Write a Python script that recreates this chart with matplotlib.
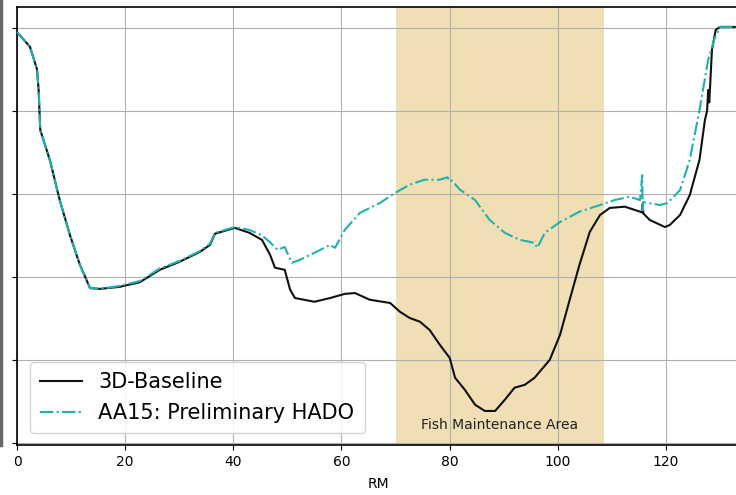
import matplotlib
matplotlib.use("Agg")
import matplotlib.pyplot as plt
from matplotlib.lines import Line2D

# River mile positions and values (fraction)
base_rm = [0, 2.4, 3.7, 4.0, 4.3, 6.1, 7.9, 9.8, 11.6, 13.5, 15.3, 19.0, 22.7, 26.4, 30.0,
           33.8, 35.7, 36.6, 40.3, 43.0, 45.3, 46.8, 47.7, 49.5, 50.5, 51.4, 55.0, 57.9,
           60.6, 62.5, 65.2, 69.0, 70.8, 72.6, 74.5, 76.3, 78.2, 80.0, 81.0, 82.8, 84.7,
           86.5, 88.4, 90.2, 92.0, 93.9, 95.7, 98.5, 100.4, 102.2, 104.0, 105.9, 107.8,
           109.6, 112.4, 115.2, 115.6, 115.7, 115.8, 117.0, 119.8, 120.7, 122.6, 124.4,
           126.2, 127.2, 127.6, 127.8, 128.0, 128.5, 129.2, 130.0, 134.0]
base_val = [0.990, 0.954, 0.90, 0.85, 0.754, 0.68, 0.585, 0.50, 0.43, 0.373, 0.371, 0.376,
            0.387, 0.417, 0.436, 0.460, 0.477, 0.504, 0.518, 0.506, 0.489, 0.453, 0.422,
            0.417, 0.369, 0.349, 0.340, 0.349, 0.359, 0.361, 0.345, 0.337, 0.316, 0.301,
            0.292, 0.272, 0.236, 0.205, 0.157, 0.128, 0.092, 0.077, 0.077, 0.104, 0.133,
            0.140, 0.157, 0.200, 0.260, 0.345, 0.429, 0.508, 0.549, 0.566, 0.569, 0.557,
            0.555, 0.575, 0.553, 0.537, 0.520, 0.525, 0.549, 0.597, 0.682, 0.778, 0.800,
            0.850, 0.820, 0.947, 0.995, 1.002, 1.002]

alt_rm = [0, 2.4, 3.7, 4.0, 4.3, 6.1, 7.9, 9.8, 11.6, 13.5, 15.3, 19.0, 22.7, 26.4, 30.0,
          33.8, 35.7, 36.6, 40.3, 43.0, 45.3, 46.8, 48.2, 49.5, 50.8, 52.3, 55.0, 57.9,
          58.8, 60.6, 63.4, 67.1, 69.9, 72.6, 75.4, 78.2, 79.6, 80.0, 80.4, 81.9, 84.7,
          87.4, 90.2, 93.0, 95.7, 96.2, 97.6, 100.4, 104.0, 107.8, 110.5, 113.3, 115.2,
          115.6, 115.7, 115.8, 118.9, 120.3, 122.6, 124.4, 126.2, 127.8, 129.0, 130.0, 134.0]
alt_val = [0.990, 0.954, 0.90, 0.85, 0.754, 0.68, 0.585, 0.50, 0.43, 0.373, 0.371, 0.378,
           0.390, 0.420, 0.438, 0.462, 0.480, 0.506, 0.520, 0.513, 0.500, 0.483, 0.465,
           0.472, 0.434, 0.441, 0.458, 0.477, 0.470, 0.513, 0.554, 0.578, 0.602, 0.622,
           0.634, 0.634, 0.640, 0.630, 0.632, 0.610, 0.585, 0.537, 0.506, 0.489, 0.482,
           0.470, 0.506, 0.532, 0.557, 0.573, 0.585, 0.593, 0.585, 0.645, 0.560, 0.580,
           0.573, 0.578, 0.609, 0.682, 0.802, 0.923, 0.975, 1.002, 1.002]

xticks = [0, 20, 40, 60, 80, 100, 120]
yticks = [0.0, 0.2, 0.4, 0.6, 0.8, 1.0]
fish_area = (70.0, 108.5)

fig = plt.figure(figsize=(7.36, 4.95), dpi=100)
ax = fig.add_axes([17/736, 50/495, 722/736, 438/495])

ax.axvspan(fish_area[0], fish_area[1], color='#f0dfb5', zorder=0, lw=0)
ax.plot(base_rm, base_val, color='#111111', lw=1.5, label='3D-Baseline', zorder=3)
ax.plot(alt_rm, alt_val, color='#20b2aa', lw=1.5, ls='-.', label='AA15: Preliminary HADO', zorder=3)

ax.text((fish_area[0] + fish_area[1]) / 2, 0.043, 'Fish Maintenance Area',
        ha='center', va='center', fontsize=10, color='#222222')

ax.set_xlim(0, 133.5)
ax.set_ylim(-0.005, 1.05)
ax.set_xticks(xticks)
ax.set_yticks(yticks)
ax.set_yticklabels([])
ax.grid(True, color='#b0b0b0', lw=0.8)
ax.set_axisbelow(True)
ax.tick_params(labelsize=10)
ax.set_xlabel('RM', fontsize=10, labelpad=6)
for s in ['top', 'bottom', 'left']:
    ax.spines[s].set_linewidth(1.2)
ax.spines['right'].set_visible(False)

ax.legend(loc='lower left', fontsize=15, framealpha=0.85, bbox_to_anchor=(0.003, 0.003),
          borderpad=0.5, labelspacing=0.5, handlelength=2.0)

fig.add_artist(Line2D([0.002, 0.002], [50/495, 1.0], color='#666666', lw=2.5))

fig.savefig('out.png', dpi=100)
